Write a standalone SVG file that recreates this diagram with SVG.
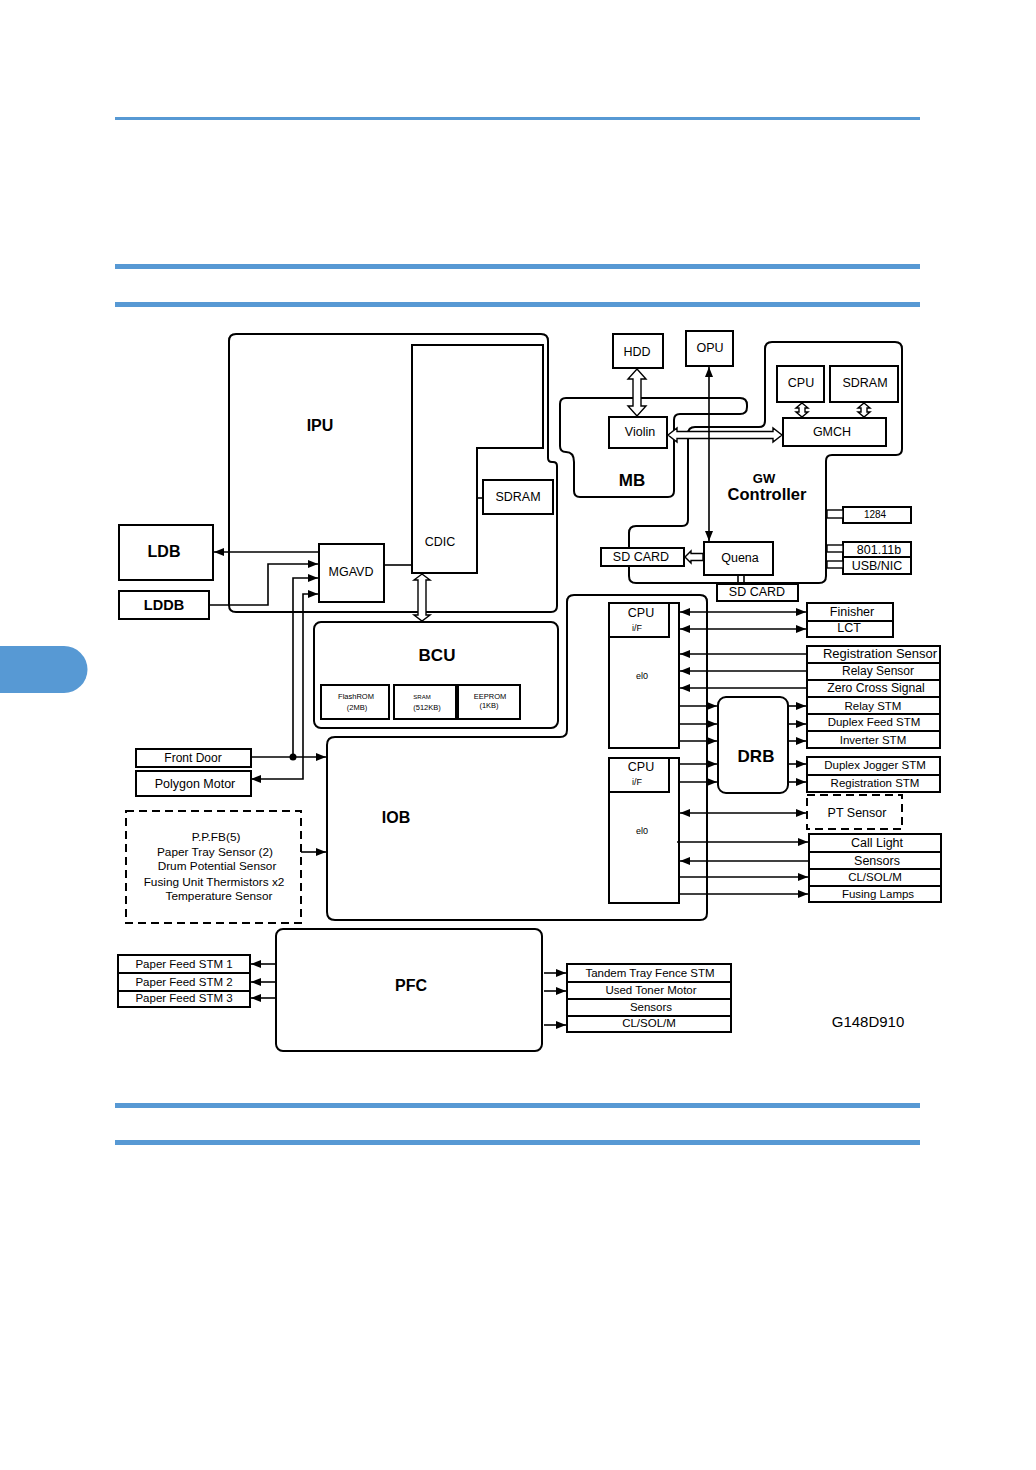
<svg xmlns="http://www.w3.org/2000/svg" width="1036" height="1470" viewBox="0 0 1036 1470">
<style>
.b{fill:#fff;stroke:#000;stroke-width:2}
.o{fill:none;stroke:#000;stroke-width:2}
.c{fill:none;stroke:#000;stroke-width:1.6}
.h{fill:#fff;stroke:#000;stroke-width:1.4}
.d{fill:#fff;stroke:#000;stroke-width:2;stroke-dasharray:8,5}
.blue{fill:#5799d4}
text{font-family:"Liberation Sans",Arial,sans-serif;fill:#000;text-anchor:middle}
.t{font-size:12.5px}
.s{font-size:11.5px}
.p{font-size:11.8px}
.x{font-size:9px}
.m{font-size:7.5px}
.bl{font-weight:bold}
</style>
<defs>
<marker id="ah" viewBox="0 0 10 8" refX="10" refY="4" markerWidth="10" markerHeight="8" orient="auto-start-reverse" markerUnits="userSpaceOnUse"><path d="M0,0 L10,4 L0,8 z" fill="#000"/></marker>
</defs>
<g id="page">
<rect class="blue" x="115" y="117" width="805" height="3"/>
<rect class="blue" x="115" y="264" width="805" height="5"/>
<rect class="blue" x="115" y="302" width="805" height="5"/>
<rect class="blue" x="115" y="1103" width="805" height="5"/>
<rect class="blue" x="115" y="1140" width="805" height="5"/>
<path class="blue" d="M0,646 H64 A23.5,23.5 0 0 1 64,693 H0 Z"/>
</g>
<g id="IPU">
<path class="o" d="M236,334 H541 Q548,334 548,341 V458 Q548,462 552,462 H553 Q557,462 557,466 V606 Q557,612 551,612 H236 Q229,612 229,605 V341 Q229,334 236,334 Z"/>
<text class="bl" x="320" y="431" style="font-size:16px">IPU</text>
</g>
<g id="CDIC">
<polygon class="b" points="412,345 543,345 543,448 477,448 477,573 412,573"/>
<text class="t" x="440" y="546">CDIC</text>
</g>
<g id="SDRAM_IPU">
<rect class="b" x="483" y="480" width="70" height="34"/>
<text class="t" x="518" y="501">SDRAM</text>
</g>
<g id="MGAVD">
<rect class="b" x="319" y="544" width="65" height="58"/>
<text class="t" x="351" y="576">MGAVD</text>
</g>
<g id="LDB">
<rect class="b" x="119" y="525" width="94" height="55"/>
<text class="bl" x="164" y="557" style="font-size:16px">LDB</text>
</g>
<g id="LDDB">
<rect class="b" x="119" y="591" width="90" height="28"/>
<text class="bl" x="164" y="610" style="font-size:14.5px">LDDB</text>
</g>
<g id="BCU">
<rect class="b" x="314" y="622" width="244" height="106" rx="7"/>
<text class="bl" x="437" y="661" style="font-size:17px">BCU</text>
<rect class="b" x="321" y="685" width="68" height="34"/>
<text class="m" x="356" y="699">FlashROM</text>
<text class="m" x="357" y="710">(2MB)</text>
<rect class="b" x="394" y="685" width="62" height="34"/>
<text x="422" y="699" style="font-size:6px">SRAM</text>
<text class="m" x="427" y="710">(512KB)</text>
<rect class="b" x="458" y="685" width="62" height="34"/>
<text class="m" x="490" y="699">EEPROM</text>
<text class="m" x="489" y="708">(1KB)</text>
</g>
<g id="IOB">
<path class="o" d="M567,730 V602 Q567,595 574,595 H700 Q707,595 707,602 V913 Q707,920 700,920 H335 Q327,920 327,912 V745 Q327,737 335,737 H560 Q567,737 567,730 Z"/>
<text class="bl" x="396" y="823" style="font-size:16px">IOB</text>
</g>
<g id="CPU_IF_1">
<rect class="b" x="609" y="603" width="70" height="145"/>
<rect class="b" x="609" y="603" width="60" height="34"/>
<text class="t" x="641" y="617">CPU</text>
<text class="x" x="637" y="631">i/F</text>
<text class="x" x="642" y="679">el0</text>
</g>
<g id="CPU_IF_2">
<rect class="b" x="609" y="758" width="70" height="145"/>
<rect class="b" x="609" y="758" width="60" height="34"/>
<text class="t" x="641" y="771">CPU</text>
<text class="x" x="637" y="785">i/F</text>
<text class="x" x="642" y="834">el0</text>
</g>
<g id="DRB">
<rect class="b" x="718" y="697" width="70" height="96" rx="8"/>
<text class="bl" x="756" y="762" style="font-size:17px">DRB</text>
</g>
<g id="GW">
<path class="o" d="M772,342 H895 Q902,342 902,349 V449 Q902,455 896,455 H832 Q826,455 826,461 V576 Q826,583 819,583 H636 Q629,583 629,576 V533 Q629,526 636,526 H682 Q688,526 688,520 V434 Q688,427 695,427 H759 Q765,427 765,421 V349 Q765,342 772,342 Z"/>
<text class="bl" x="764" y="483" style="font-size:13px">GW</text>
<text class="bl" x="767" y="500" style="font-size:16.5px">Controller</text>
</g>
<g id="MB">
<path class="o" d="M566,398 H740 Q747,398 747,405 V407 Q747,414 740,414 H680 Q674,414 674,420 V491 Q674,497 668,497 H580 Q574,497 574,491 V462 Q574,452 566,452 Q560,452 560,446 V404 Q560,398 566,398 Z"/>
<text class="bl" x="632" y="486" style="font-size:17px">MB</text>
</g>
<g id="HDD"><rect class="b" x="613" y="334" width="50" height="34"/><text class="t" x="637" y="356">HDD</text></g>
<g id="OPU"><rect class="b" x="686" y="331" width="47" height="35"/><text class="t" x="710" y="352">OPU</text></g>
<g id="Violin"><rect class="b" x="609" y="417" width="58" height="31"/><text class="t" x="640" y="436">Violin</text></g>
<g id="GMCH"><rect class="b" x="783" y="418" width="103" height="28"/><text class="t" x="832" y="436">GMCH</text></g>
<g id="CPU_GW"><rect class="b" x="777" y="366" width="47" height="36"/><text class="t" x="801" y="387">CPU</text></g>
<g id="SDRAM_GW"><rect class="b" x="830" y="366" width="68" height="36"/><text class="t" x="865" y="387">SDRAM</text></g>
<g id="Quena"><rect class="b" x="704" y="542" width="69" height="33"/><text class="t" x="740" y="562">Quena</text></g>
<g id="SDCARD1"><rect class="b" x="601" y="548" width="83" height="18"/><text class="t" x="641" y="561">SD CARD</text></g>
<g id="SDCARD2"><rect class="b" x="717" y="584" width="81" height="17"/><text class="t" x="757" y="596">SD CARD</text></g>
<g id="P1284"><rect class="b" x="843" y="507" width="68" height="16"/><text class="x" x="875" y="518" style="font-size:10px">1284</text></g>
<g id="W80211"><rect class="b" x="843" y="542" width="68" height="15"/><text class="t" x="879" y="554">801.11b</text></g>
<g id="USBNIC"><rect class="b" x="843" y="557" width="68" height="17"/><text class="t" x="877" y="570">USB/NIC</text></g>
<g id="FinisherLCT">
<rect class="b" x="807" y="603" width="86" height="34"/>
<line class="o" x1="807" y1="621" x2="893" y2="621"/>
<text class="t" x="852" y="616">Finisher</text>
<text class="t" x="849" y="632">LCT</text>
</g>
<g id="SensorsSTM">
<rect class="b" x="807" y="646" width="133" height="102"/>
<line class="o" x1="807" y1="663" x2="940" y2="663"/>
<line class="o" x1="807" y1="680" x2="940" y2="680"/>
<line class="o" x1="807" y1="697" x2="940" y2="697"/>
<line class="o" x1="807" y1="714" x2="940" y2="714"/>
<line class="o" x1="807" y1="731" x2="940" y2="731"/>
<text x="880" y="658" style="font-size:13px">Registration Sensor</text>
<text x="878" y="675" style="font-size:12px">Relay Sensor</text>
<text x="876" y="692" style="font-size:12.2px">Zero Cross Signal</text>
<text class="s" x="873" y="710">Relay STM</text>
<text class="s" x="874" y="726">Duplex Feed STM</text>
<text class="s" x="873" y="744">Inverter STM</text>
</g>
<g id="JoggerReg">
<rect class="b" x="807" y="757" width="133" height="35"/>
<line class="o" x1="807" y1="775" x2="940" y2="775"/>
<text class="s" x="875" y="769">Duplex Jogger STM</text>
<text class="s" x="875" y="787">Registration STM</text>
</g>
<g id="PTSensor">
<rect class="d" x="807" y="795" width="95" height="34"/>
<text class="t" x="857" y="817">PT Sensor</text>
</g>
<g id="CallLight">
<rect class="b" x="809" y="834" width="132" height="68"/>
<line class="o" x1="809" y1="852" x2="941" y2="852"/>
<line class="o" x1="809" y1="869" x2="941" y2="869"/>
<line class="o" x1="809" y1="886" x2="941" y2="886"/>
<text class="t" x="877" y="847">Call Light</text>
<text class="t" x="877" y="865">Sensors</text>
<text class="s" x="875" y="881">CL/SOL/M</text>
<text class="s" x="878" y="898">Fusing Lamps</text>
</g>
<g id="FrontDoor"><rect class="b" x="136" y="749" width="115" height="18"/><text x="193" y="762" style="font-size:12px">Front Door</text></g>
<g id="PolygonMotor"><rect class="b" x="136" y="771" width="115" height="25"/><text class="t" x="195" y="788">Polygon Motor</text></g>
<g id="SensorsDashed">
<rect class="d" x="126" y="811" width="175" height="112"/>
<text class="p" x="216" y="841">P.P.FB(5)</text>
<text class="p" x="215" y="856">Paper Tray Sensor (2)</text>
<text class="p" x="217" y="870">Drum Potential  Sensor</text>
<text class="p" x="214" y="886">Fusing  Unit Thermistors x2</text>
<text class="p" x="219" y="900">Temperature Sensor</text>
</g>
<g id="PFC">
<rect class="b" x="276" y="929" width="266" height="122" rx="7"/>
<text class="bl" x="411" y="991" style="font-size:16px">PFC</text>
</g>
<g id="PaperFeed">
<rect class="b" x="118" y="955" width="132" height="52"/>
<line class="o" x1="118" y1="973" x2="250" y2="973"/>
<line class="o" x1="118" y1="991" x2="250" y2="991"/>
<text class="s" x="184" y="968">Paper Feed STM 1</text>
<text class="s" x="184" y="986">Paper Feed STM 2</text>
<text class="s" x="184" y="1002">Paper Feed STM 3</text>
</g>
<g id="PFCOut">
<rect class="b" x="567" y="964" width="164" height="68"/>
<line class="o" x1="567" y1="982" x2="731" y2="982"/>
<line class="o" x1="567" y1="999" x2="731" y2="999"/>
<line class="o" x1="567" y1="1016" x2="731" y2="1016"/>
<text class="s" x="650" y="977">Tandem Tray Fence STM</text>
<text class="s" x="651" y="994">Used Toner Motor</text>
<text class="s" x="651" y="1011">Sensors</text>
<text class="s" x="649" y="1027">CL/SOL/M</text>
</g>
<g id="label"><text x="868" y="1027" style="font-size:15px">G148D910</text></g>
<g id="connectors">
<line class="c" x1="319" y1="552" x2="214" y2="552" marker-end="url(#ah)"/>
<polyline class="c" points="209,605 268,605 268,564 318,564" marker-end="url(#ah)"/>
<polyline class="c" points="293,757 293,578 318,578" marker-end="url(#ah)"/>
<line class="c" x1="251" y1="757" x2="326" y2="757" marker-end="url(#ah)"/>
<circle cx="293" cy="757" r="3.5" fill="#000"/>
<polyline class="c" points="251,779 303,779 303,594 318,594" marker-start="url(#ah)" marker-end="url(#ah)"/>
<line class="c" x1="384" y1="565" x2="412" y2="565"/>
<line class="c" x1="477" y1="498" x2="483" y2="498"/>
<line class="c" x1="301" y1="852" x2="326" y2="852" marker-end="url(#ah)"/>
<polygon class="h" points="422,574 430,580 426,580 426,615 430,615 422,621 414,615 418,615 418,580 414,580"/>
<polygon class="h" points="637,369 646,379 641,379 641,406 646,406 637,416 628,406 633,406 633,379 628,379"/>
<polygon class="h" points="668,435 677,428 677,431.5 773,431.5 773,428 782,435 773,442 773,438.5 677,438.5 677,442"/>
<polygon class="h" points="802,403 808,408 805,408 805,412 808,412 802,417 796,412 799,412 799,408 796,408"/>
<polygon class="h" points="864,403 870,408 867,408 867,412 870,412 864,417 858,412 861,412 861,408 858,408"/>
<line class="c" x1="709" y1="367" x2="709" y2="541" marker-start="url(#ah)" marker-end="url(#ah)"/>
<polygon class="h" points="685,557 691,551 691,553.5 703,553.5 703,560.5 691,560.5 691,563"/>
<line class="c" x1="738" y1="575" x2="738" y2="584"/>
<line class="c" x1="744" y1="575" x2="744" y2="584"/>
<rect class="h" x="827" y="510" width="16" height="8"/>
<rect class="h" x="827" y="545" width="16" height="7"/>
<rect class="h" x="827" y="561" width="16" height="7"/>
<line class="c" x1="680" y1="612" x2="806" y2="612" marker-start="url(#ah)" marker-end="url(#ah)"/>
<line class="c" x1="680" y1="629" x2="806" y2="629" marker-start="url(#ah)" marker-end="url(#ah)"/>
<line class="c" x1="807" y1="654" x2="680" y2="654" marker-end="url(#ah)"/>
<line class="c" x1="807" y1="671" x2="680" y2="671" marker-end="url(#ah)"/>
<line class="c" x1="807" y1="688" x2="680" y2="688" marker-end="url(#ah)"/>
<line class="c" x1="679" y1="706" x2="717" y2="706" marker-end="url(#ah)"/>
<line class="c" x1="679" y1="724" x2="717" y2="724" marker-end="url(#ah)"/>
<line class="c" x1="679" y1="741" x2="717" y2="741" marker-end="url(#ah)"/>
<line class="c" x1="679" y1="764" x2="717" y2="764" marker-end="url(#ah)"/>
<line class="c" x1="679" y1="782" x2="717" y2="782" marker-end="url(#ah)"/>
<line class="c" x1="788" y1="706" x2="806" y2="706" marker-end="url(#ah)"/>
<line class="c" x1="788" y1="724" x2="806" y2="724" marker-end="url(#ah)"/>
<line class="c" x1="788" y1="741" x2="806" y2="741" marker-end="url(#ah)"/>
<line class="c" x1="788" y1="764" x2="806" y2="764" marker-end="url(#ah)"/>
<line class="c" x1="788" y1="782" x2="806" y2="782" marker-end="url(#ah)"/>
<line class="c" x1="680" y1="813" x2="806" y2="813" marker-start="url(#ah)" marker-end="url(#ah)"/>
<line class="c" x1="677" y1="842" x2="808" y2="842" marker-end="url(#ah)"/>
<line class="c" x1="809" y1="861" x2="680" y2="861" marker-end="url(#ah)"/>
<line class="c" x1="679" y1="877" x2="808" y2="877" marker-end="url(#ah)"/>
<line class="c" x1="679" y1="894" x2="808" y2="894" marker-end="url(#ah)"/>
<line class="c" x1="276" y1="964" x2="251" y2="964" marker-end="url(#ah)"/>
<line class="c" x1="276" y1="982" x2="251" y2="982" marker-end="url(#ah)"/>
<line class="c" x1="276" y1="998" x2="251" y2="998" marker-end="url(#ah)"/>
<line class="c" x1="544" y1="973" x2="566" y2="973" marker-end="url(#ah)"/>
<line class="c" x1="544" y1="991" x2="566" y2="991" marker-end="url(#ah)"/>
<line class="c" x1="544" y1="1025" x2="566" y2="1025" marker-end="url(#ah)"/>
</g>
</svg>
